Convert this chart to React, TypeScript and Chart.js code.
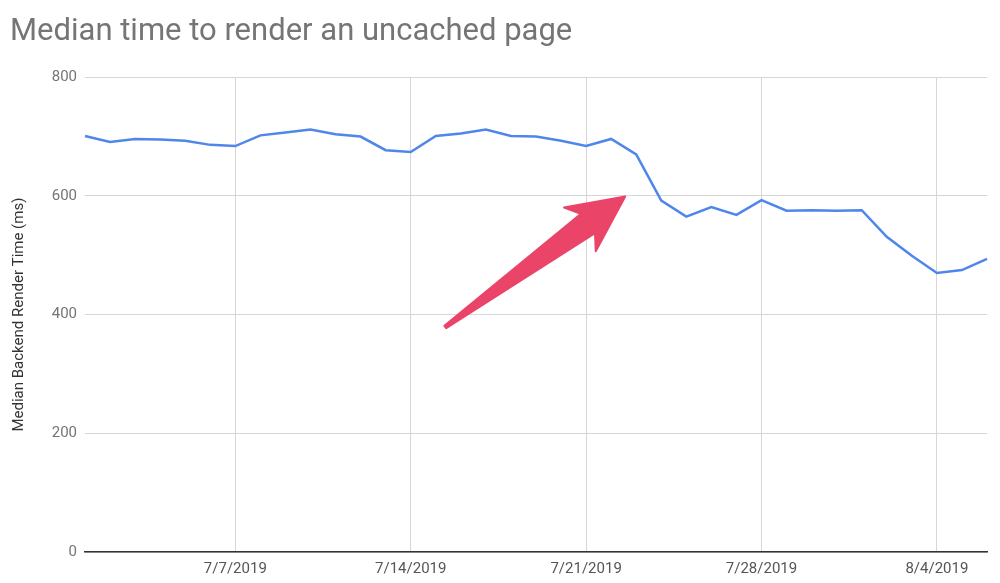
import { useEffect, useRef } from "react";
import { Chart, registerables, type Plugin } from "chart.js";

Chart.register(...registerables);

const dates = [
  "7/1/2019", "7/2/2019", "7/3/2019", "7/4/2019", "7/5/2019", "7/6/2019", "7/7/2019",
  "7/8/2019", "7/9/2019", "7/10/2019", "7/11/2019", "7/12/2019", "7/13/2019", "7/14/2019",
  "7/15/2019", "7/16/2019", "7/17/2019", "7/18/2019", "7/19/2019", "7/20/2019", "7/21/2019",
  "7/22/2019", "7/23/2019", "7/24/2019", "7/25/2019", "7/26/2019", "7/27/2019", "7/28/2019",
  "7/29/2019", "7/30/2019", "7/31/2019", "8/1/2019", "8/2/2019", "8/3/2019", "8/4/2019",
  "8/5/2019", "8/6/2019",
];

const renderTimeMs = [
  701, 691, 696, 695, 693, 686, 684,
  702, 707, 712, 704, 700, 677, 674,
  701, 705, 712, 701, 700, 693, 684,
  696, 670, 592, 565, 581, 568, 593,
  575, 576, 575, 576, 531, 499, 470,
  475, 494,
];

const weekLabels = ["7/7/2019", "7/14/2019", "7/21/2019", "7/28/2019", "8/4/2019"];

const yTicks = [0, 200, 400, 600, 800];

// arrow annotation in data units: [day index, ms]
const arrowFrom = [14.38, 379];
const arrowTo = [21.56, 599];

const arrowPlugin: Plugin<"line"> = {
  id: "arrow",
  afterDatasetsDraw(chart) {
    const { ctx } = chart;
    const xs = chart.scales.x;
    const ys = chart.scales.y;
    const x0 = xs.getPixelForValue(arrowFrom[0]);
    const y0 = ys.getPixelForValue(arrowFrom[1]);
    const x1 = xs.getPixelForValue(arrowTo[0]);
    const y1 = ys.getPixelForValue(arrowTo[1]);
    const len = Math.hypot(x1 - x0, y1 - y0);
    const ang = Math.atan2(y1 - y0, x1 - x0);
    ctx.save();
    ctx.translate(x0, y0);
    ctx.rotate(ang);
    ctx.beginPath();
    ctx.moveTo(0, -1.5);
    ctx.lineTo(len - 46, -12);
    ctx.lineTo(len - 56, -27);
    ctx.lineTo(len, 0);
    ctx.lineTo(len - 56, 27);
    ctx.lineTo(len - 46, 12);
    ctx.lineTo(0, 1.5);
    ctx.closePath();
    ctx.fillStyle = "#ea4468";
    ctx.strokeStyle = "#ea4468";
    ctx.lineWidth = 2;
    ctx.lineJoin = "round";
    ctx.fill();
    ctx.stroke();
    ctx.restore();
  },
};

export default function App() {
  const canvasRef = useRef<HTMLCanvasElement | null>(null);

  useEffect(() => {
    const canvas = canvasRef.current;
    if (!canvas) return;

    const chart = new Chart(canvas, {
      type: "line",
      data: {
        labels: dates,
        datasets: [
          {
            label: "Median Backend Render Time (ms)",
            data: renderTimeMs,
            borderColor: "#4f86ec",
            borderWidth: 2.5,
            pointRadius: 0,
            tension: 0,
            fill: false,
          },
        ],
      },
      options: {
        animation: false,
        responsive: true,
        maintainAspectRatio: false,
        layout: { padding: { left: 10, right: 13, top: 0, bottom: 0 } },
        plugins: {
          legend: { display: false },
          tooltip: { enabled: false },
          title: {
            display: true,
            text: "Median time to render an uncached page",
            align: "start",
            color: "#757575",
            font: { family: "Roboto", size: 31, weight: "normal" },
            padding: { top: 14, bottom: 26 },
          },
        },
        scales: {
          x: {
            offset: false,
            border: { display: true, color: "#333333", width: 1.5 },
            grid: {
              drawTicks: false,
              color: (c) =>
                weekLabels.includes(dates[c.index]) ? "#d6d6d6" : "rgba(0,0,0,0)",
            },
            ticks: {
              autoSkip: false,
              maxRotation: 0,
              minRotation: 0,
              padding: 8,
              color: "#555555",
              font: { family: "Roboto", size: 15 },
              callback: (_v, i) => (weekLabels.includes(dates[i]) ? dates[i] : ""),
            },
            afterFit: (scale) => {
              scale.height = 31;
            },
          },
          y: {
            min: 0,
            max: 800,
            border: { display: false },
            grid: { drawTicks: false, color: "#d6d6d6" },
            afterBuildTicks: (scale) => {
              scale.ticks = yTicks.map((v) => ({ value: v }));
            },
            ticks: {
              padding: 8,
              color: "#757575",
              font: { family: "Roboto", size: 15 },
            },
            title: {
              display: true,
              text: "Median Backend Render Time (ms)",
              color: "#333333",
              font: { family: "Roboto", size: 15 },
              padding: { top: 0, bottom: 0 },
            },
            afterFit: (scale) => {
              scale.width = 75;
            },
          },
        },
      },
      plugins: [arrowPlugin],
    });

    return () => {
      chart.destroy();
    };
  }, []);

  return (
    <div style={{ position: "absolute", left: 0, top: 0, width: 1000, height: 583, background: "#fff" }}>
      <canvas ref={canvasRef} />
    </div>
  );
}
